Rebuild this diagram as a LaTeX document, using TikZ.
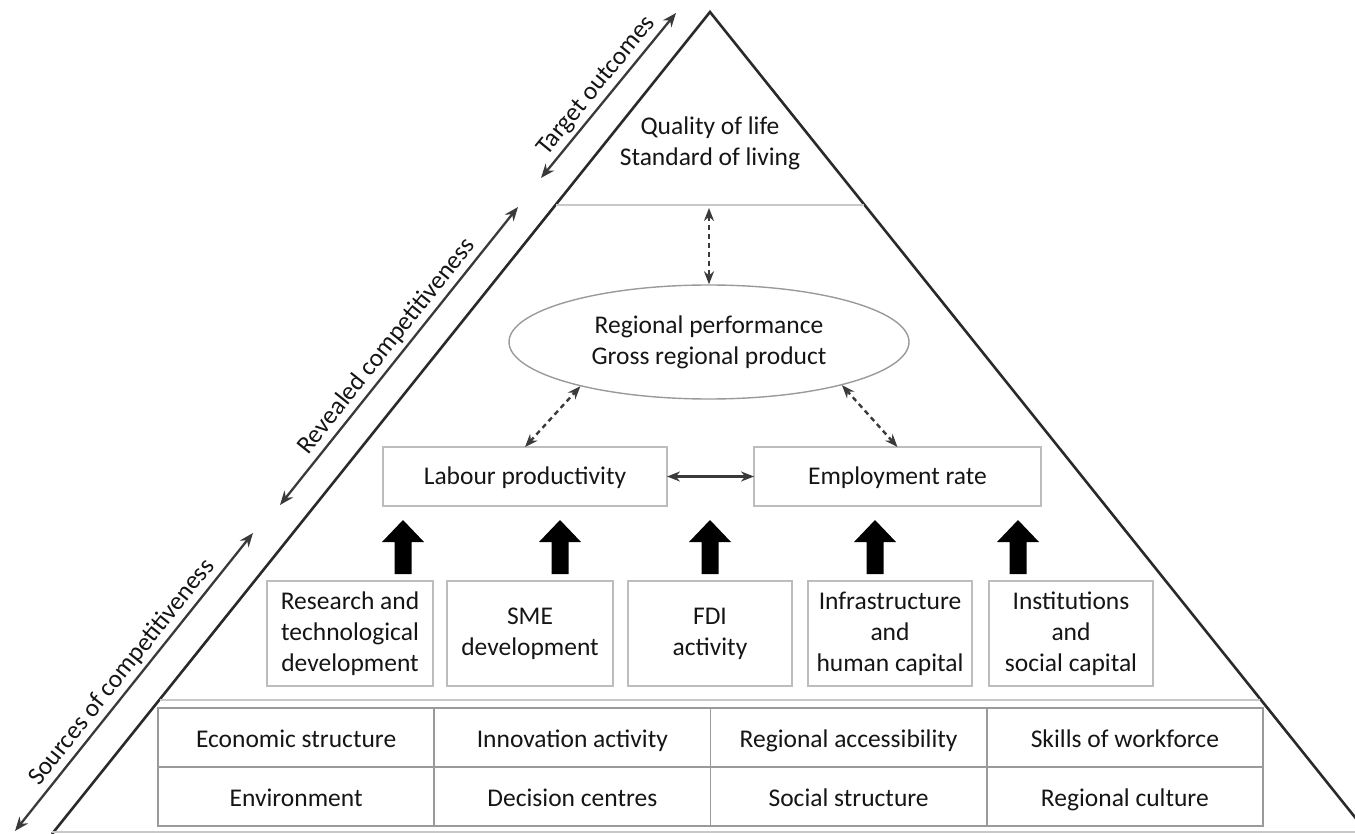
\documentclass[tikz,border=0pt]{standalone}
\usepackage{fontspec}
\setmainfont{Carlito}
\usetikzlibrary{arrows.meta,shapes.geometric}
\definecolor{inkc}{HTML}{151515}
\definecolor{edgec}{HTML}{2A2A2A}
\definecolor{arrc}{HTML}{3A3A3A}
\definecolor{boxc}{HTML}{BDBDBD}
\definecolor{tabc}{HTML}{9A9A9A}
\definecolor{sepc}{HTML}{C8C8C8}
\begin{document}
\begin{tikzpicture}[x=1pt,y=-1pt,
  txt/.style={font=\fontsize{25.5}{31}\selectfont, text=inkc, align=center},
  pyredge/.style={line width=2.6pt, draw=edgec},
  sidearrow/.style={line width=2.3pt, draw=arrc, {Stealth[length=14pt,width=11pt]}-{Stealth[length=14pt,width=11pt]}},
  dasharrow/.style={line width=2.4pt, draw=arrc, dash pattern=on 5pt off 4pt, {Stealth[length=13pt,width=10pt]}-{Stealth[length=13pt,width=10pt]}},
  linkarrow/.style={line width=2.3pt, draw=arrc, {Stealth[length=13pt,width=10pt]}-{Stealth[length=13pt,width=10pt]}},
  sepline/.style={line width=2pt, draw=sepc},
  box/.style={txt, draw=boxc, line width=1.6pt, rectangle, inner sep=0pt, outer sep=0pt},
  cell/.style={txt, draw=tabc, line width=1.6pt, rectangle, inner sep=0pt, outer sep=0pt, minimum width=276.25, minimum height=59, text height=22pt, text depth=3pt},
  blockarrow/.style={fill=black}
]
\useasboundingbox (0,0) rectangle (1355,834);
\clip (0,0) rectangle (1355,834);

% pyramid
\coordinate (apex) at (710,12);
\coordinate (bl) at (52,834);
\coordinate (br) at (1370,836);
\draw[pyredge, line join=miter] (bl) -- (apex) -- (br);

% separators
\draw[sepline] (555.6,205) -- (864.4,205);
\draw[sepline] (159.6,700) -- (1260.4,700);
\draw[sepline] (52,832) -- (1355,832);

% side arrows
\coordinate (t0) at (541,178);
\coordinate (t1) at (676,13);
\coordinate (r0) at (280,505);
\coordinate (r1) at (518,207);
\coordinate (s0) at (15,831);
\coordinate (s1) at (253,533);
\draw[sidearrow] (t0) -- node[midway, above, sloped, txt] (tlab) {Target outcomes} (t1);
\draw[sidearrow] (r0) -- node[midway, above, sloped, txt] (rlab) {Revealed competitiveness} (r1);
\draw[sidearrow] (s0) -- node[midway, above, sloped, txt] (slab) {Sources of competitiveness} (s1);

% top section
\node[txt] (top) at (710,143.5) {Quality of life\\Standard of living};

% ellipse
\node[ellipse, draw=tabc, line width=1.4pt, minimum width=400, minimum height=114, txt, inner sep=0pt] (ell) at (709,342) {Regional performance\\Gross regional product};
\coordinate (tl) at (709,208);
\draw[dasharrow] (tl) -- (ell.north);

% middle boxes
\node[box, minimum width=284, minimum height=59, text height=20pt, text depth=4pt] (lab) at (525,476.5) {Labour productivity};
\node[box, minimum width=287, minimum height=59, text height=20pt, text depth=4pt] (emp) at (897.5,476.5) {Employment rate};
\draw[linkarrow] (lab.east) -- (emp.west);
\draw[dasharrow] (lab.north) -- (ell.199);
\draw[dasharrow] (emp.north) -- (ell.342);

% block arrows
\foreach \ax in {403,560,710,875,1018}{
  \fill[blockarrow] (\ax-8.5,574) -- (\ax-8.5,542) -- (\ax-21,542) -- (\ax,520) -- (\ax+21,542) -- (\ax+8.5,542) -- (\ax+8.5,574) -- cycle;
}

% bottom boxes
\node[box, minimum width=166, minimum height=105] (b1) at (350,633.5) {Research and\\technological\\development};
\node[box, minimum width=166, minimum height=105] (b2) at (530,633.5) {SME\\development};
\node[box, minimum width=164, minimum height=105] (b3) at (710,633.5) {FDI\\activity};
\node[box, minimum width=164, minimum height=105] (b4) at (890,633.5) {Infrastructure\\and\\human capital};
\node[box, minimum width=164, minimum height=105] (b5) at (1071,633.5) {Institutions\\and\\social capital};

% table
\node[cell] (c11) at (296.125,737.5) {Economic structure};
\node[cell] (c12) at (572.375,737.5) {Innovation activity};
\node[cell] (c13) at (848.625,737.5) {Regional accessibility};
\node[cell] (c14) at (1124.875,737.5) {Skills of workforce};
\node[cell] (c21) at (296.125,796.5) {Environment};
\node[cell] (c22) at (572.375,796.5) {Decision centres};
\node[cell] (c23) at (848.625,796.5) {Social structure};
\node[cell] (c24) at (1124.875,796.5) {Regional culture};
\end{tikzpicture}
\end{document}
